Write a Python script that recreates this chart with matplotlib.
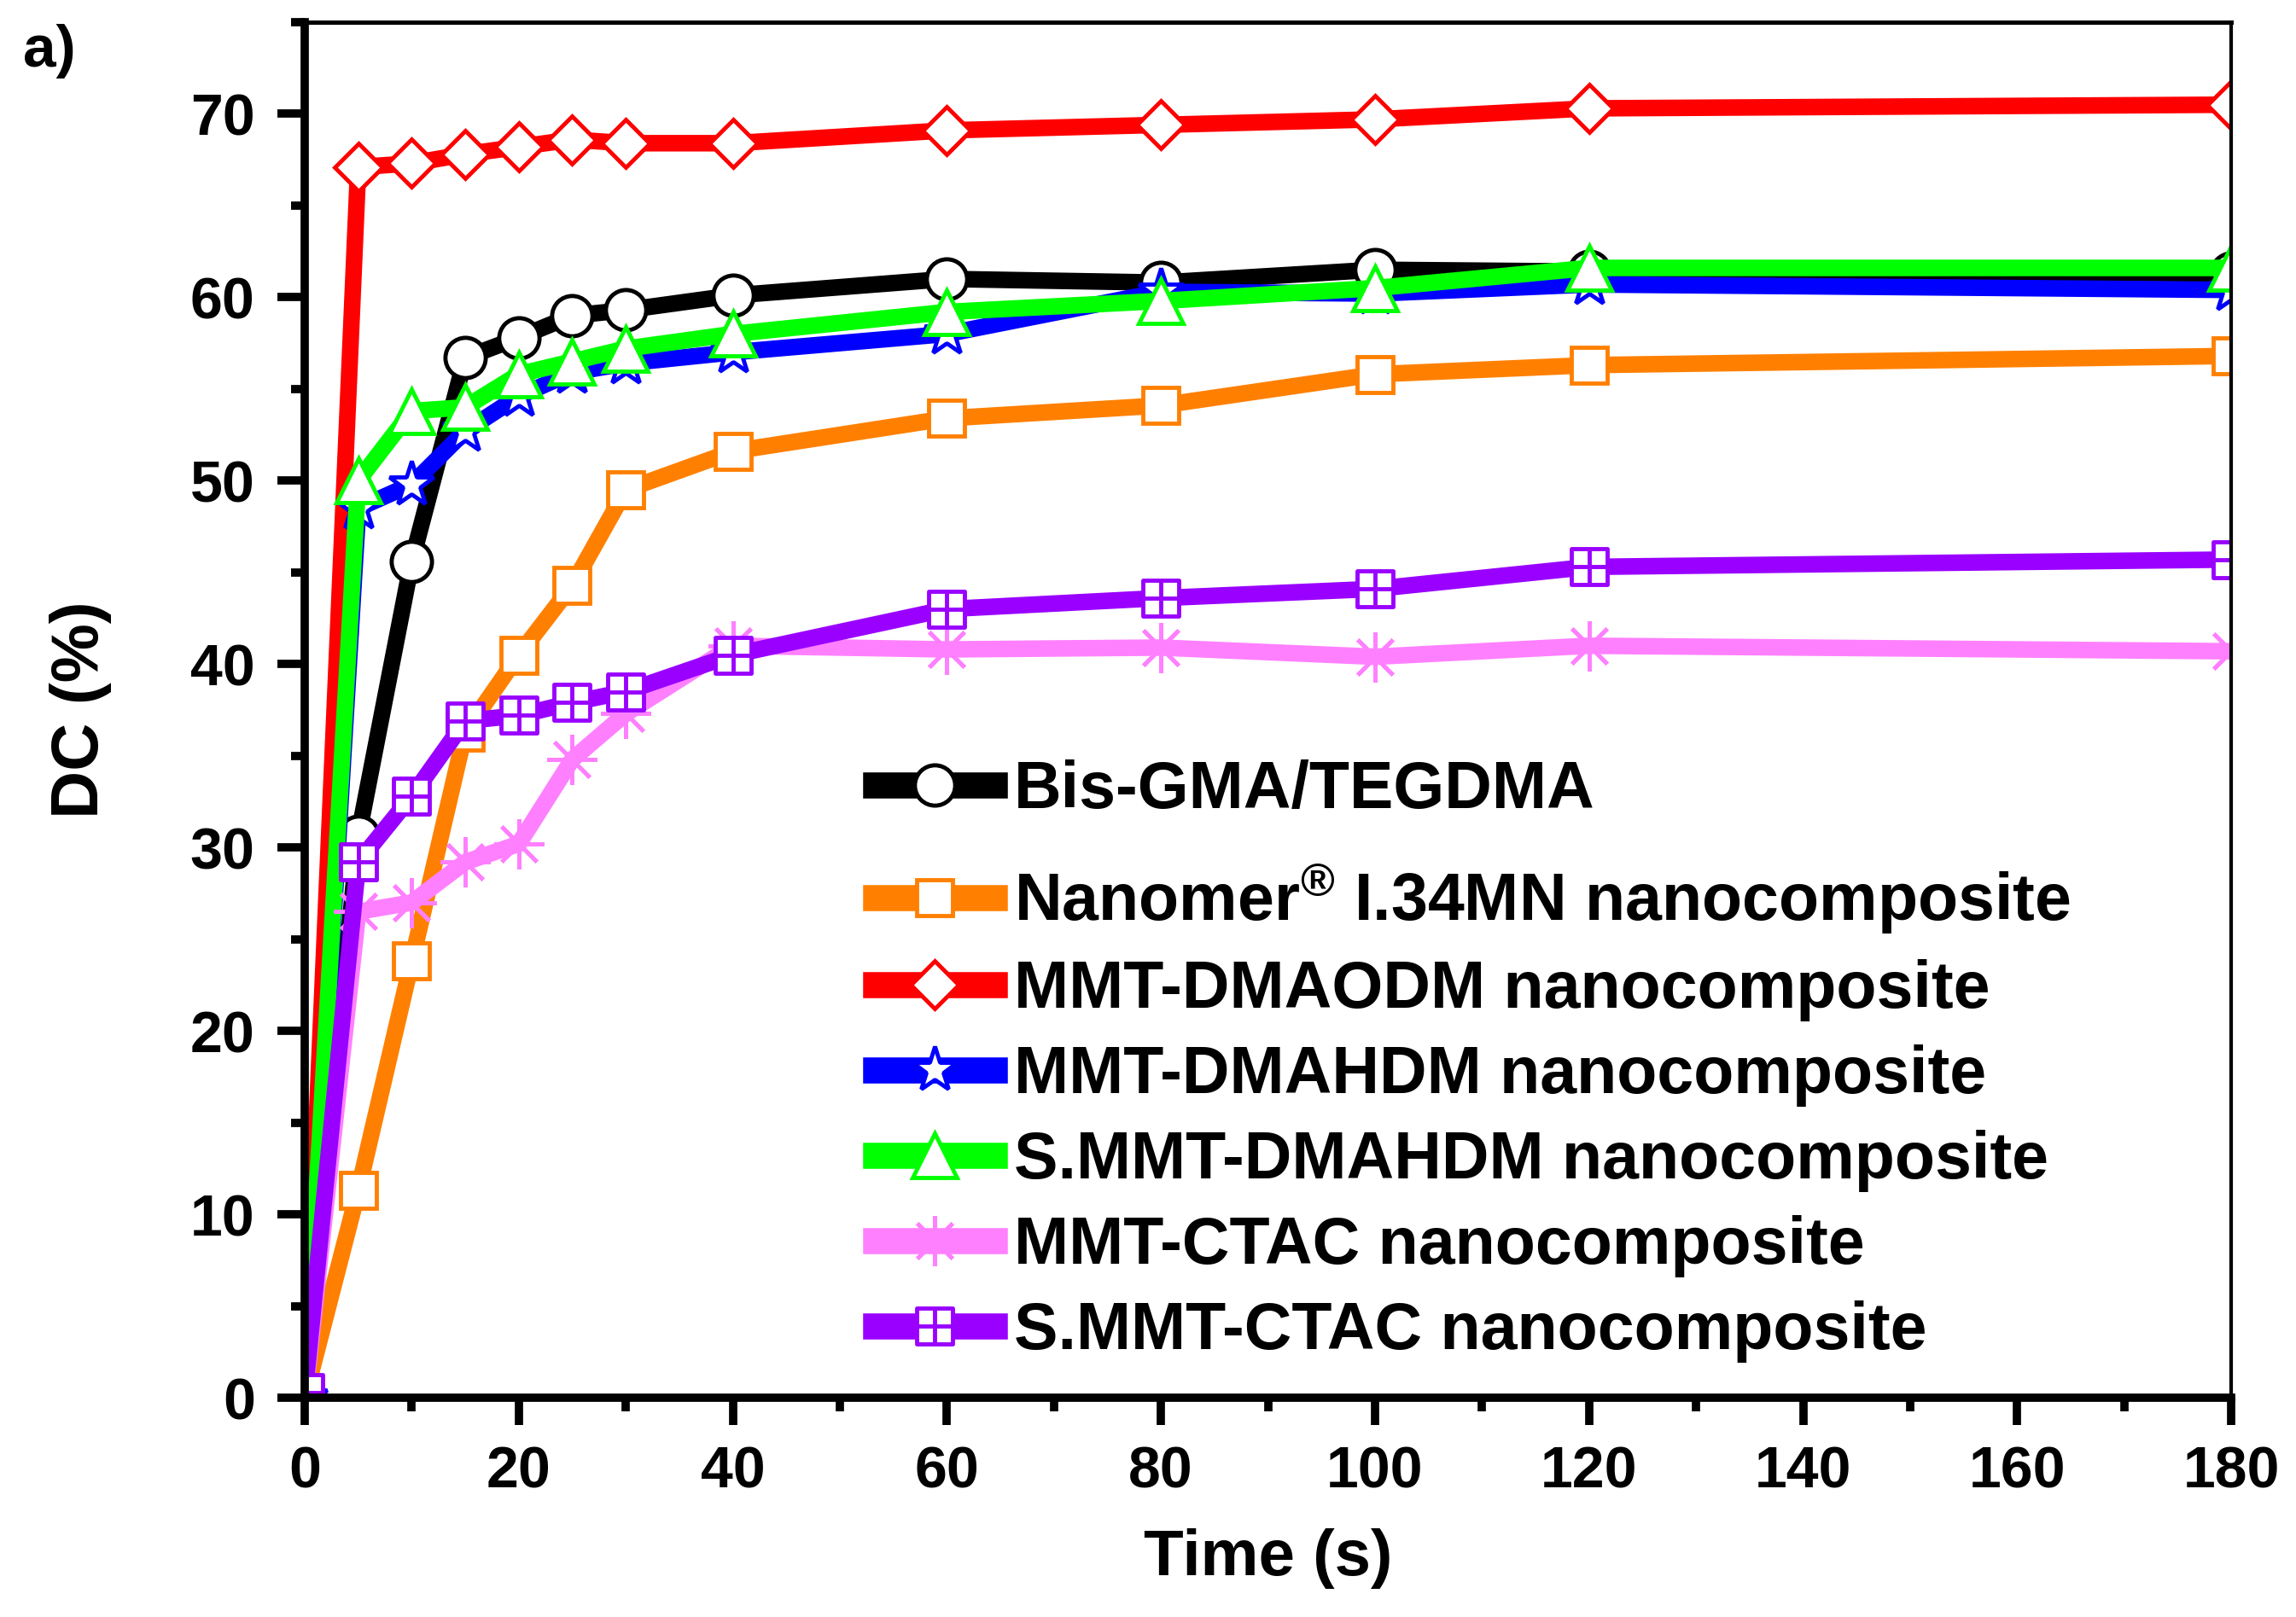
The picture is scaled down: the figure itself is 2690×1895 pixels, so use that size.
import numpy as np
import matplotlib
matplotlib.use("Agg")
import matplotlib.pyplot as plt
from matplotlib.path import Path
from matplotlib.ticker import MultipleLocator

plt.rcParams['font.family'] = ['Liberation Sans', 'DejaVu Sans']
plt.rcParams['font.weight'] = 'bold'
plt.rcParams['mathtext.fontset'] = 'custom'
plt.rcParams['mathtext.rm'] = 'Liberation Sans:bold'
plt.rcParams['mathtext.default'] = 'rm'

# time points (s)
time = [0, 5, 10, 15, 20, 25, 30, 40, 60, 80, 100, 120, 180]

# degree of conversion (%)
bis_gma = [0, 30.6, 45.6, 56.7, 57.8, 59.0, 59.3, 60.1, 61.0, 60.8, 61.5, 61.4, 61.3]
nanomer = [0, 11.3, 23.8, 36.3, 40.5, 44.3, 49.5, 51.6, 53.4, 54.1, 55.8, 56.3, 56.8]
mmt_dmaodm = [0, 67.1, 67.3, 67.8, 68.2, 68.6, 68.4, 68.4, 69.1, 69.4, 69.7, 70.3, 70.5]
mmt_dmahdm = [0, 48.5, 49.8, 52.7, 54.6, 55.9, 56.4, 57.0, 58.0, 60.3, 60.2, 60.7, 60.4]
smmt_dmahdm = [0, 50.0, 53.8, 54.0, 55.8, 56.5, 57.2, 58.0, 59.2, 59.8, 60.5, 61.6, 61.6]
mmt_ctac = [0, 26.5, 27.0, 29.2, 30.2, 34.8, 37.3, 41.0, 40.8, 40.9, 40.4, 41.0, 40.7]
smmt_ctac = [0.3, 29.2, 32.8, 36.9, 37.2, 37.9, 38.5, 40.5, 43.0, 43.6, 44.1, 45.3, 45.7]

labels = ['Bis-GMA/TEGDMA',
          'Nanomer$^{®}$ I.34MN nanocomposite',
          'MMT-DMAODM nanocomposite',
          'MMT-DMAHDM nanocomposite',
          'S.MMT-DMAHDM nanocomposite',
          'MMT-CTAC nanocomposite',
          'S.MMT-CTAC nanocomposite']

# square with a cross inside
box_plus = Path([(-1, -1), (1, -1), (1, 1), (-1, 1), (-1, -1),
                 (0, -1), (0, 1), (-1, 0), (1, 0)],
                [Path.MOVETO, Path.LINETO, Path.LINETO, Path.LINETO, Path.CLOSEPOLY,
                 Path.MOVETO, Path.LINETO, Path.MOVETO, Path.LINETO])

series = [
    (bis_gma, 'black', 'o', 34),
    (nanomer, '#FF8000', 's', 30),
    (mmt_dmaodm, '#FF0000', 'D', 29),
    (mmt_dmahdm, '#0000FF', '*', 40),
    (smmt_dmahdm, '#00FF00', '^', 38),
    (mmt_ctac, '#FF80FF', (8, 2, 0), 42),
    (smmt_ctac, '#9900FF', box_plus, 30),
]

fig = plt.figure(figsize=(26.9, 18.95), dpi=100)
ax = fig.add_axes([0.1327, 0.1356, 0.9718 - 0.1327, 0.9863 - 0.1356])

handles = []
for (vals, col, mk, ms), lab in zip(series, labels):
    h, = ax.plot(time, vals, color=col, lw=14, marker=mk, markersize=ms,
                 markerfacecolor='white', markeredgecolor=col, markeredgewidth=3.5,
                 label=lab, solid_joinstyle='miter')
    handles.append(h)

ax.set_xlim(0, 180)
ax.set_ylim(0, 75)
ax.xaxis.set_major_locator(MultipleLocator(20))
ax.xaxis.set_minor_locator(MultipleLocator(10))
ax.yaxis.set_major_locator(MultipleLocator(10))
ax.yaxis.set_minor_locator(MultipleLocator(5))
ax.tick_params(which='major', direction='out', length=23, width=7, labelsize=49, pad=17)
ax.tick_params(which='minor', direction='out', length=11.5, width=7)
ax.tick_params(axis='y', pad=19)
for lbl in ax.get_xticklabels() + ax.get_yticklabels():
    lbl.set_fontweight('bold')

ax.spines['left'].set_linewidth(7)
ax.spines['bottom'].set_linewidth(7)
ax.spines['top'].set_linewidth(3.6)
ax.spines['right'].set_linewidth(3)

ax.set_xlabel('Time (s)', fontsize=55, fontweight='bold', labelpad=24)
ax.set_ylabel('DC (%)', fontsize=56, fontweight='bold', labelpad=66)

fig.text(0.010, 0.985, 'a)', fontsize=50, fontweight='bold', va='top', ha='left')

leg_kw = dict(frameon=False, fontsize=55.5, handlelength=1.8, handletextpad=0.3,
              labelspacing=0.35, borderpad=0, borderaxespad=0,
              bbox_transform=fig.transFigure, loc='upper left')
leg1 = ax.legend(handles[:1], labels[:1], bbox_to_anchor=(1026 / 2690, 1 - 890 / 1895), **leg_kw)
ax.add_artist(leg1)
leg2 = ax.legend(handles[1:], labels[1:], bbox_to_anchor=(1026 / 2690, 1 - 1010 / 1895), **leg_kw)
for lg in (leg1, leg2):
    for ln in lg.get_lines():
        ln.set_linewidth(22)

fig.savefig('out.png', dpi=100)
